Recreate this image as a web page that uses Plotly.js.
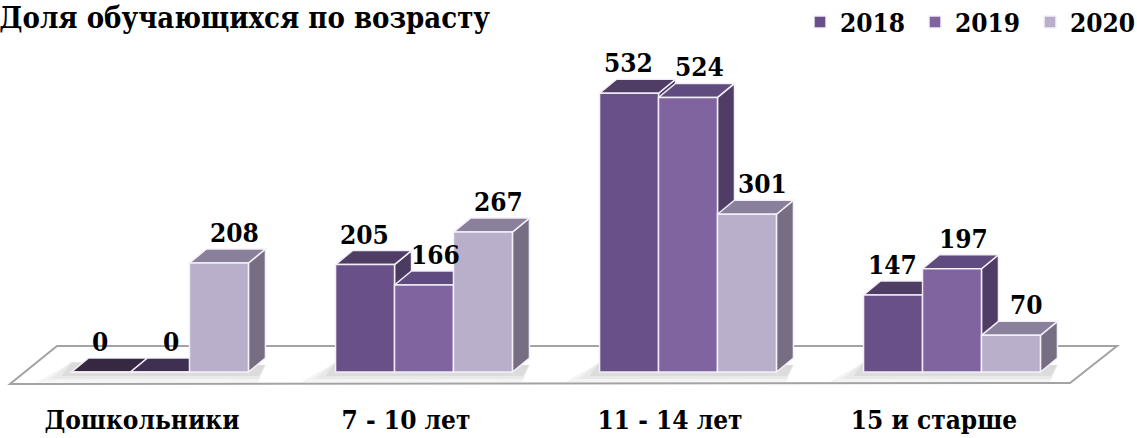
<!DOCTYPE html>
<html>
<head>
<meta charset="utf-8">
<script src="https://cdn.plot.ly/plotly-3.0.1.min.js"></script>
<style>html,body{margin:0;padding:0;background:#fff;}#chart{width:1137px;height:438px;}</style>
</head>
<body>
<div id="chart"></div>
<script>
// ---- data ----
const categories = ["Дошкольники", "7 - 10 лет", "11 - 14 лет", "15 и старше"];
const seriesNames = ["2018", "2019", "2020"];
const values2018 = [0, 205, 532, 147];
const values2019 = [0, 166, 524, 197];
const values2020 = [208, 267, 301, 70];
const chartTitle = "Доля обучающихся по возрасту";

// ---- style ----
const W = 1137, H = 438;
const M = {l: 0, r: 0, t: 58, b: 43};
const catPx = 264;
const cat0Px = 160;
const basePx = 372;
const pxPerUnit = 0.524;
const plotBottomPx = H - M.b;
const xRange = [(0 - cat0Px) / catPx, (W - cat0Px) / catPx];
const yRange = [-(plotBottomPx - basePx) / pxPerUnit, (basePx - M.t) / pxPerUnit];
const px2x = p => (p - cat0Px) / catPx;
const px2y = p => (basePx - p) / pxPerUnit;
const DX = 17 / catPx, DY = 14 / pxPerUnit;
const bargap = 0.33;
const bw = (1 - bargap) / 3;

const frontColors = ["#6a5088", "#7f64a0", "#b9afca"];
const topColors   = ["#4f3d66", "#5f4b7d", "#8b809b"];
const sideColors  = ["#4c3b61", "#4f3d65", "#786e84"];
const zeroColors  = ["#352840", "#3f2f51", "#5a5066"];
const edge = "rgba(245,242,250,0.95)";
const FONT = "DejaVu Serif Condensed, DejaVu Serif";
const FS = 26;

const allValues = [values2018, values2019, values2020];

const traces = allValues.map((vals, k) => ({
  type: "bar",
  name: "<b>" + seriesNames[k] + "</b>",
  x: categories.map((c, i) => i),
  y: vals,
  marker: {color: frontColors[k], line: {color: edge, width: 1.5}},
  hoverinfo: "skip",
  cliponaxis: false
}));

const shapes = [];
const floor = [[10, 384], [1070, 383], [1117, 346], [57, 346]];
shapes.push({
  type: "path", xref: "x", yref: "y", layer: "below",
  path: "M" + floor.map(p => px2x(p[0]) + "," + px2y(p[1])).join("L") + "Z",
  fillcolor: "#ffffff", line: {color: "#a3a3a3", width: 2}
});
categories.forEach((c, i) => {
  const xl = i - 1.5 * bw, xr = i + 1.5 * bw;
  [[0.055, 34, 10], [0.06, 22, 7], [0.07, 10, 4]].forEach(s => {
    const ox = s[1] / catPx, oy = s[2] / pxPerUnit;
    shapes.push({
      type: "path", xref: "x", yref: "y", layer: "below",
      path: `M${xl - ox},${-oy} L${xr + DX * 0.6},${-oy} L${xr + DX},${DY * 0.5} L${xl},${DY * 0.7} Z`,
      fillcolor: `rgba(60,60,60,${s[0]})`, line: {width: 0}
    });
  });
});
categories.forEach((c, i) => {
  for (let k = 0; k < 3; k++) {
    const v = allValues[k][i];
    const xl = i + (k - 1) * bw - bw / 2, xr = xl + bw;
    if (v > 0) {
      shapes.push({
        type: "path", xref: "x", yref: "y", layer: "below",
        path: `M${xr},0 L${xr + DX},${DY} L${xr + DX},${v + DY} L${xr},${v} Z`,
        fillcolor: sideColors[k], line: {color: edge, width: 1.5}
      });
    }
    shapes.push({
      type: "path", xref: "x", yref: "y", layer: "below",
      path: `M${xl},${v} L${xr},${v} L${xr + DX},${v + DY} L${xl + DX},${v + DY} Z`,
      fillcolor: v > 0 ? topColors[k] : zeroColors[k], line: {color: edge, width: 1.5}
    });
  }
});

const labelShift = [-1, 11, 16];
const annotations = [];
categories.forEach((c, i) => {
  for (let k = 0; k < 3; k++) {
    const v = allValues[k][i];
    annotations.push({
      x: i + (k - 1) * bw, y: v, xref: "x", yref: "y",
      text: "<b>" + v + "</b>", showarrow: false,
      xanchor: "center", yanchor: "middle",
      xshift: labelShift[k], yshift: 30,
      font: {family: FONT, size: FS, color: "#000"}
    });
  }
});

const layout = {
  width: W, height: H,
  margin: M,
  font: {family: FONT},
  paper_bgcolor: "#ffffff", plot_bgcolor: "rgba(0,0,0,0)",
  barmode: "group", bargap: bargap, bargroupgap: 0,
  title: {
    text: "<b>" + chartTitle + "</b>",
    font: {family: FONT, size: 29, color: "#000"},
    xref: "container", x: 490 / W, xanchor: "right",
    yref: "container", y: 1 - 18 / H, yanchor: "middle"
  },
  xaxis: {
    range: xRange, tickvals: categories.map((c, i) => i), ticktext: categories.map(c => "<b>" + c + "</b>"),
    showgrid: false, zeroline: false, showline: false, ticks: "",
    tickfont: {family: FONT, size: FS, color: "#000"},
    ticklabelshift: -18, ticklabelstandoff: 7, fixedrange: true
  },
  yaxis: {range: yRange, visible: false, showgrid: false, zeroline: false, fixedrange: true},
  showlegend: true,
  legend: {
    orientation: "h", xref: "container", yref: "container",
    x: 800 / W, xanchor: "left", y: 1 - 22 / H, yanchor: "middle",
    font: {family: FONT, size: FS, color: "#000"},
    entrywidth: 70, entrywidthmode: "pixels", itemwidth: 30,
    bgcolor: "rgba(0,0,0,0)", traceorder: "normal"
  },
  shapes: shapes,
  annotations: annotations
};

Plotly.newPlot("chart", traces, layout, {displayModeBar: false, staticPlot: true});
</script>
</body>
</html>
